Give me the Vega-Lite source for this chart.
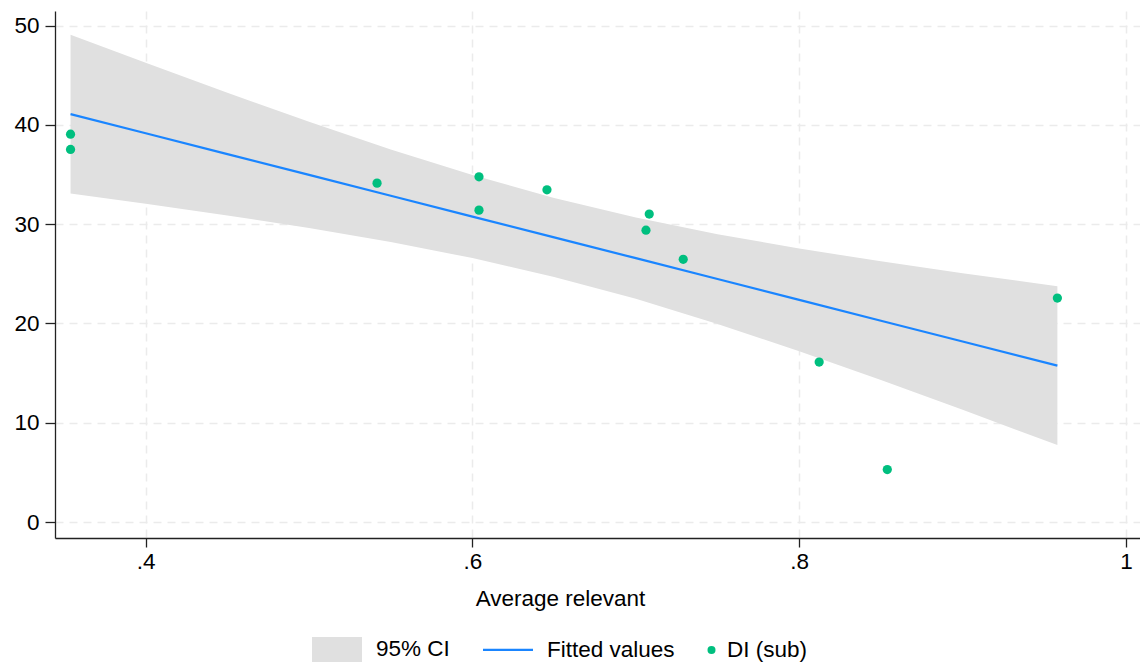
{
  "$schema": "https://vega.github.io/schema/vega-lite/v6.json",
  "width": 1085,
  "height": 527,
  "autosize": {"type": "none"},
  "padding": {"left": 55, "top": 11, "right": 0, "bottom": 130},
  "background": "white",
  "config": {"view": {"stroke": null}, "font": "Liberation Sans"},
  "datasets": {
    "points": [
      {"x": 0.354, "y": 39.07, "series": "DI (sub)"},
      {"x": 0.354, "y": 37.53, "series": "DI (sub)"},
      {"x": 0.5416, "y": 34.14, "series": "DI (sub)"},
      {"x": 0.604, "y": 34.78, "series": "DI (sub)"},
      {"x": 0.604, "y": 31.42, "series": "DI (sub)"},
      {"x": 0.6456, "y": 33.47, "series": "DI (sub)"},
      {"x": 0.7082, "y": 31.02, "series": "DI (sub)"},
      {"x": 0.7062, "y": 29.4, "series": "DI (sub)"},
      {"x": 0.729, "y": 26.46, "series": "DI (sub)"},
      {"x": 0.8122, "y": 16.11, "series": "DI (sub)"},
      {"x": 0.8539, "y": 5.28, "series": "DI (sub)"},
      {"x": 0.958, "y": 22.56, "series": "DI (sub)"}
    ],
    "band": [
      {"x": 0.354, "fit": 41.09, "lo": 33.09, "hi": 49.09},
      {"x": 0.4, "fit": 39.16, "lo": 32.06, "hi": 46.26},
      {"x": 0.45, "fit": 37.06, "lo": 30.88, "hi": 43.24},
      {"x": 0.5, "fit": 34.97, "lo": 29.62, "hi": 40.32},
      {"x": 0.55, "fit": 32.87, "lo": 28.21, "hi": 37.53},
      {"x": 0.6, "fit": 30.77, "lo": 26.59, "hi": 34.95},
      {"x": 0.65, "fit": 28.67, "lo": 24.69, "hi": 32.65},
      {"x": 0.7, "fit": 26.58, "lo": 22.48, "hi": 30.68},
      {"x": 0.75, "fit": 24.48, "lo": 19.96, "hi": 29.0},
      {"x": 0.8, "fit": 22.38, "lo": 17.21, "hi": 27.55},
      {"x": 0.85, "fit": 20.28, "lo": 14.3, "hi": 26.26},
      {"x": 0.9, "fit": 18.19, "lo": 11.31, "hi": 25.07},
      {"x": 0.958, "fit": 15.75, "lo": 7.75, "hi": 23.75}
    ]
  },
  "layer": [
    {
      "data": {"name": "band"},
      "mark": {"type": "area", "color": "#e0e0e0", "opacity": 1},
      "encoding": {
        "x": {
          "field": "x", "type": "quantitative",
          "scale": {"domain": [0.34449, 1.00857], "nice": false, "zero": false},
          "axis": {
            "values": [0.4, 0.6, 0.8, 1],
            "labelExpr": "datum.value == 1 ? '1' : replace(format(datum.value, '.1f'), '0.', '.')",
            "title": "Average relevant",
            "grid": true, "gridDash": [8, 6], "gridColor": "#ebebeb", "gridWidth": 1.5,
            "domainColor": "#222", "domainWidth": 1.3,
            "tickColor": "#222", "tickWidth": 1.3, "tickSize": 9,
            "labelFontSize": 22.5, "labelColor": "#000", "labelFont": "Liberation Sans",
            "labelBaseline": "alphabetic", "labelPadding": 21,
            "labelFlush": false, "labelOverlap": false,
            "titleFontSize": 22.5, "titleFontWeight": "normal", "titleColor": "#000",
            "titleFont": "Liberation Sans",
            "titleBaseline": "alphabetic", "titleY": 67, "titleX": 505
          }
        },
        "y": {
          "field": "lo", "type": "quantitative",
          "scale": {"domain": [-1.61, 51.48], "nice": false, "zero": false},
          "axis": {
            "values": [0, 10, 20, 30, 40, 50],
            "title": null,
            "grid": true, "gridDash": [8, 6], "gridColor": "#ebebeb", "gridWidth": 1.5,
            "domainColor": "#222", "domainWidth": 1.3,
            "tickColor": "#222", "tickWidth": 1.3, "tickSize": 10,
            "labelFontSize": 22.5, "labelColor": "#000", "labelFont": "Liberation Sans",
            "labelPadding": 6, "labelOverlap": false, "labelFlush": false
          }
        },
        "y2": {"field": "hi"}
      }
    },
    {
      "data": {"name": "band"},
      "mark": {"type": "line", "color": "#1a85ff", "strokeWidth": 2.2},
      "encoding": {
        "x": {"field": "x", "type": "quantitative"},
        "y": {"field": "fit", "type": "quantitative"}
      }
    },
    {
      "data": {"name": "points"},
      "mark": {"type": "point", "filled": true, "size": 85, "opacity": 1},
      "encoding": {
        "x": {"field": "x", "type": "quantitative"},
        "y": {"field": "y", "type": "quantitative"},
        "color": {
          "field": "series", "type": "nominal",
          "scale": {"domain": ["95% CI", "Fitted values", "DI (sub)"], "range": ["#e0e0e0", "#1a85ff", "#00bf7f"]},
          "legend": {
            "title": null, "orient": "none", "legendX": 257, "legendY": 627,
            "direction": "horizontal", "symbolSize": 2500, "symbolStrokeWidth": 0,
            "labelFontSize": 22.5, "labelFont": "Liberation Sans", "labelColor": "#000",
            "labelOffset": 13, "columnPadding": 28, "padding": 0, "symbolOpacity": 1,
            "labelBaseline": "middle",
            "encode": {
              "symbols": {"update": {
                "fill": {"signal": "datum.value === '95% CI' ? '#e0e0e0' : datum.value === 'DI (sub)' ? '#00bf7f' : 'transparent'"},
                "stroke": {"signal": "datum.value === 'Fitted values' ? '#1a85ff' : 'transparent'"},
                "strokeWidth": {"signal": "datum.value === 'Fitted values' ? 2.2 : 0"},
                "size": {"signal": "datum.value === 'DI (sub)' ? 64 : 2500"},
                "x": {"signal": "datum.value === 'DI (sub)' ? 8.5 : 25"},
                "opacity": {"value": 1}
              }},
              "labels": {"update": {
                "x": {"signal": "datum.value === 'DI (sub)' ? 24 : 64"}
              }}
            }
          }
        },
        "shape": {
          "field": "series", "type": "nominal",
          "scale": {"domain": ["95% CI", "Fitted values", "DI (sub)"], "range": ["M-1,-0.5H1V0.5H-1Z", "M-1,0H1", "circle"]},
          "legend": {
            "title": null, "orient": "none", "legendX": 257, "legendY": 627,
            "direction": "horizontal", "symbolSize": 2500, "symbolStrokeWidth": 0,
            "labelFontSize": 22.5, "labelFont": "Liberation Sans", "labelColor": "#000",
            "labelOffset": 13, "columnPadding": 28, "padding": 0, "symbolOpacity": 1,
            "labelBaseline": "middle"
          }
        }
      }
    }
  ]
}
